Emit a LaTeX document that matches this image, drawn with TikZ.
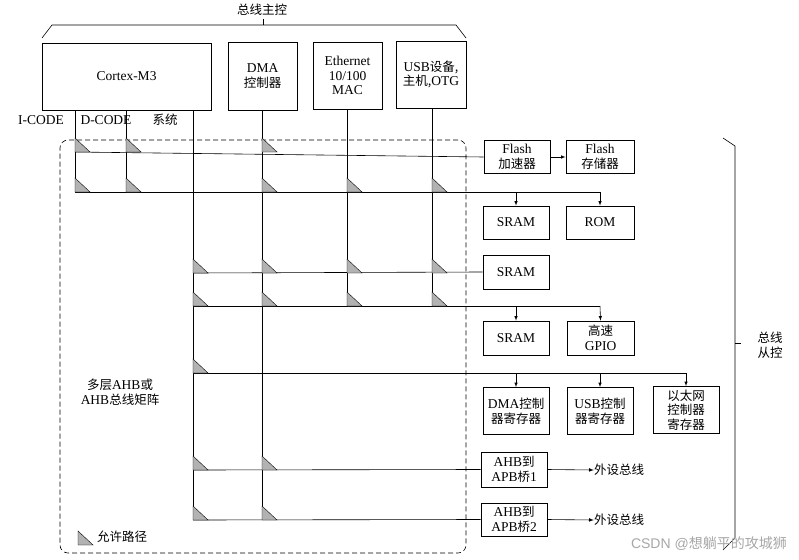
\documentclass[tikz,border=0pt]{standalone}
\usepackage{fontspec}
\setmainfont{Liberation Serif}
\newfontfamily\cjk{Noto Sans CJK SC}
\newfontfamily\wm{Liberation Sans}
\newcommand{\zh}[1]{{\cjk\fontsize{12.5}{14}\selectfont #1}}
\begin{document}
\begin{tikzpicture}[x=1pt,y=-1pt,
  every node/.style={font=\fontsize{13.5}{14.5}\selectfont, inner sep=0pt},
  box/.style={draw, thick, align=center},
  ln/.style={semithick},
  ar/.style={semithick,-latex},
  tri/.style={fill=gray!60, draw, thin}]
\useasboundingbox (0,0) rectangle (799,559);
\newcommand{\tr}[2]{\filldraw[tri] (#1,#2-14) -- (#1,#2) -- (#1+15,#2) -- cycle;}
% masters
\node[box, minimum width=169, minimum height=67] (cm) at (126.5,76.5) {Cortex-M3};
\node[box, minimum width=69, minimum height=68] (dma) at (262.5,76) {DMA\\\zh{控制器}};
\node[box, minimum width=69, minimum height=67] (eth) at (347.5,75.5) {Ethernet\\10/100\\MAC};
\node[box, minimum width=70, minimum height=67] (usb) at (431,74.5) {USB\zh{设备,}\\\zh{主机,}OTG};
% top brace
\node (bm) at (262,10) {\zh{总线主控}};
\coordinate (b1) at (42,38); \coordinate (b2) at (466,38);
\draw[ln] (b1) -- (52,25) -- (456,25) -- (b2);
\draw[ln] (263,25) -- (263,19);
% labels
\node (ic) at (41,120) {I-CODE};
\node (dc) at (106,120) {D-CODE};
\node (sy) at (165,120) {\zh{系统}};
% dashed region
\node[draw, semithick, dash pattern=on 5pt off 3pt, rounded corners=8, minimum width=406, minimum height=413] (mx) at (263,346.5) {};
\node[align=center] (mxl) at (120,392) {\zh{多层}AHB\zh{或}\\AHB\zh{总线矩阵}};
% slaves
\node[box, minimum width=66, minimum height=33] (fa) at (517,157) {Flash\\\zh{加速器}};
\node[box, minimum width=68, minimum height=33] (fs) at (600,157) {Flash\\\zh{存储器}};
\node[box, minimum width=66, minimum height=33] (s1) at (516,222.5) {SRAM};
\node[box, minimum width=68, minimum height=33] (rom) at (600,222.5) {ROM};
\node[box, minimum width=66, minimum height=34] (s2) at (516,272) {SRAM};
\node[box, minimum width=66, minimum height=34] (s3) at (516,338) {SRAM};
\node[box, minimum width=67, minimum height=34] (gp) at (600.5,338) {\zh{高速}\\GPIO};
\node[box, minimum width=66, minimum height=47] (dr) at (516,411) {DMA\zh{控制}\\\zh{器寄存器}};
\node[box, minimum width=66, minimum height=47] (ur) at (600,411) {USB\zh{控制}\\\zh{器寄存器}};
\node[box, minimum width=66, minimum height=47] (er) at (686,410) {\zh{以太网}\\\zh{控制器}\\\zh{寄存器}};
\node[box, minimum width=66, minimum height=35] (p1) at (514,469.5) {AHB\zh{到}\\APB\zh{桥}1};
\node[box, minimum width=66, minimum height=33] (p2) at (514,519.5) {AHB\zh{到}\\APB\zh{桥}2};
\node (o1) at (619,470) {\zh{外设总线}};
\node (o2) at (619,520) {\zh{外设总线}};
\draw[ar] (p1.east) -- (o1.west);
\draw[ar] (p2.east) -- (o2.west);
\draw[ar] (fa) -- (fs);
% verticals
\draw[ln] (75,110) -- (75,192);
\draw[ln] (126,110) -- (126,192);
\draw[ln] (193,110) -- (193,520);
\draw[ln] (262,110) -- (262,520);
\draw[ln] (347,109) -- (347,306);
\draw[ln] (432,108) -- (432,306);
% horizontals
\draw[ln] (75,152) -- (fa.west);
\draw[ln] (75,192) -- (600,192);
\draw[ar] (516,192) -- (s1.north);
\draw[ar] (600,192) -- (rom.north);
\draw[ln] (193,273) -- (s2.west);
\draw[ln] (193,306) -- (600,306);
\draw[ar] (516,306) -- (s3.north);
\draw[ar] (600,306) -- (gp.north);
\draw[ln] (193,373) -- (686,373);
\draw[ar] (516,373) -- (dr.north);
\draw[ar] (600,373) -- (ur.north);
\draw[ar] (686,373) -- (er.north);
\draw[ln] (193,470) -- (p1.west);
\draw[ln] (193,520) -- (p2.west);
% triangles
\tr{75}{152}\tr{126}{152}\tr{262}{152}
\tr{75}{192}\tr{126}{192}\tr{262}{192}\tr{347}{192}\tr{432}{192}
\tr{193}{273}\tr{262}{273}\tr{347}{273}\tr{432}{273}
\tr{193}{306}\tr{262}{306}\tr{347}{306}\tr{432}{306}
\tr{193}{373}
\tr{193}{470}\tr{262}{470}
\tr{193}{520}\tr{262}{520}
% legend
\tr{78}{545}
\node[anchor=west] (lg) at (97,537) {\zh{允许路径}};
% right brace
\draw[ln] (723,138) -- (735,146) -- (735,538) -- (723,550);
\draw[ln] (735,343) -- (741,343);
\node[align=center] (bs) at (770,345) {\zh{总线}\\\zh{从控}};
% watermark
\node[anchor=east, text=gray!70] (w) at (787,544) {\wm\fontsize{14}{15}\selectfont CSDN @\cjk 想躺平的攻城狮};
\end{tikzpicture}
\end{document}
